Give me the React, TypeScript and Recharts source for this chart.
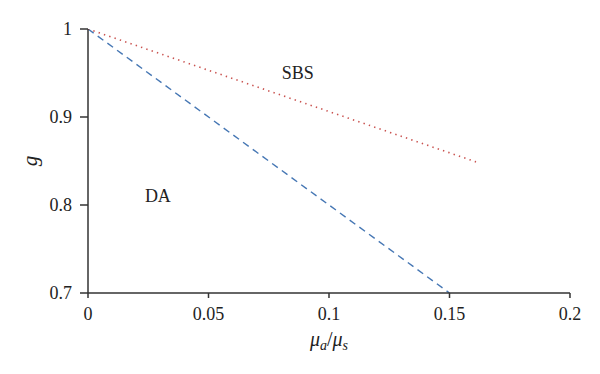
import { Line, LineChart, ReferenceDot, XAxis, YAxis } from 'recharts';

const X_TICKS = [0, 0.05, 0.1, 0.15, 0.2];
const Y_TICKS = [0.7, 0.8, 0.9, 1];
const DA_BOUNDARY = [
  { x: 0, y: 1 },
  { x: 0.15, y: 0.7 },
];
const SBS_BOUNDARY = [
  { x: 0, y: 1 },
  { x: 0.161, y: 0.849 },
];
const REGIONS = [
  { name: 'SBS', x: 0.087, y: 0.951 },
  { name: 'DA', x: 0.029, y: 0.811 },
];

const FONT = 'Liberation Serif';
const AXIS_COLOR = '#333';
const TICK = { fontSize: 18, fill: '#222', fontFamily: FONT };

function XTitle({ viewBox }: any) {
  const cx = viewBox.x + viewBox.width / 2;
  const y = viewBox.y + 53;
  return (
    <text x={cx} y={y} textAnchor="middle" fontFamily={FONT} fontSize={20} fill="#222">
      <tspan fontStyle="italic">μ</tspan>
      <tspan fontSize={14} dy={4} fontStyle="italic">a</tspan>
      <tspan dy={-4}>/</tspan>
      <tspan fontStyle="italic">μ</tspan>
      <tspan fontSize={14} dy={4} fontStyle="italic">s</tspan>
    </text>
  );
}

function YTitle({ viewBox }: any) {
  const x = viewBox.x + 37;
  const cy = viewBox.y + viewBox.height / 2;
  return (
    <text
      x={x}
      y={cy}
      transform={`rotate(-90 ${x} ${cy})`}
      textAnchor="middle"
      fontFamily={FONT}
      fontStyle="italic"
      fontSize={21}
      fill="#222"
    >
      g
    </text>
  );
}

export default function App() {
  return (
    <div style={{ position: 'absolute', left: 0, top: 0, background: '#fff', fontFamily: FONT }}>
      <LineChart width={600} height={374} margin={{ top: 29, right: 30, bottom: 0, left: 0 }}>
        <XAxis
          type="number"
          dataKey="x"
          domain={[0, 0.2]}
          ticks={X_TICKS}
          tick={TICK}
          tickSize={5}
          tickMargin={9}
          height={81}
          stroke={AXIS_COLOR}
          strokeWidth={1.5}
          allowDataOverflow
          label={{ content: XTitle }}
        />
        <YAxis
          type="number"
          dataKey="y"
          domain={[0.7, 1]}
          ticks={Y_TICKS}
          tick={TICK}
          tickSize={8}
          tickMargin={8}
          width={88}
          stroke={AXIS_COLOR}
          strokeWidth={1.5}
          allowDataOverflow
          label={{ content: YTitle }}
        />
        <Line
          data={DA_BOUNDARY}
          dataKey="y"
          stroke="#4677b4"
          strokeWidth={1.4}
          strokeDasharray="7 5"
          dot={false}
          isAnimationActive={false}
        />
        <Line
          data={SBS_BOUNDARY}
          dataKey="y"
          stroke="#c9524f"
          strokeWidth={1.6}
          strokeDasharray="1.4 4.2"
          dot={false}
          isAnimationActive={false}
        />
        {REGIONS.map((r) => (
          <ReferenceDot
            key={r.name}
            x={r.x}
            y={r.y}
            r={0}
            stroke="none"
            fill="none"
            label={{ value: r.name, position: 'center', fontFamily: FONT, fontSize: 18, fill: '#222' }}
          />
        ))}
      </LineChart>
    </div>
  );
}
